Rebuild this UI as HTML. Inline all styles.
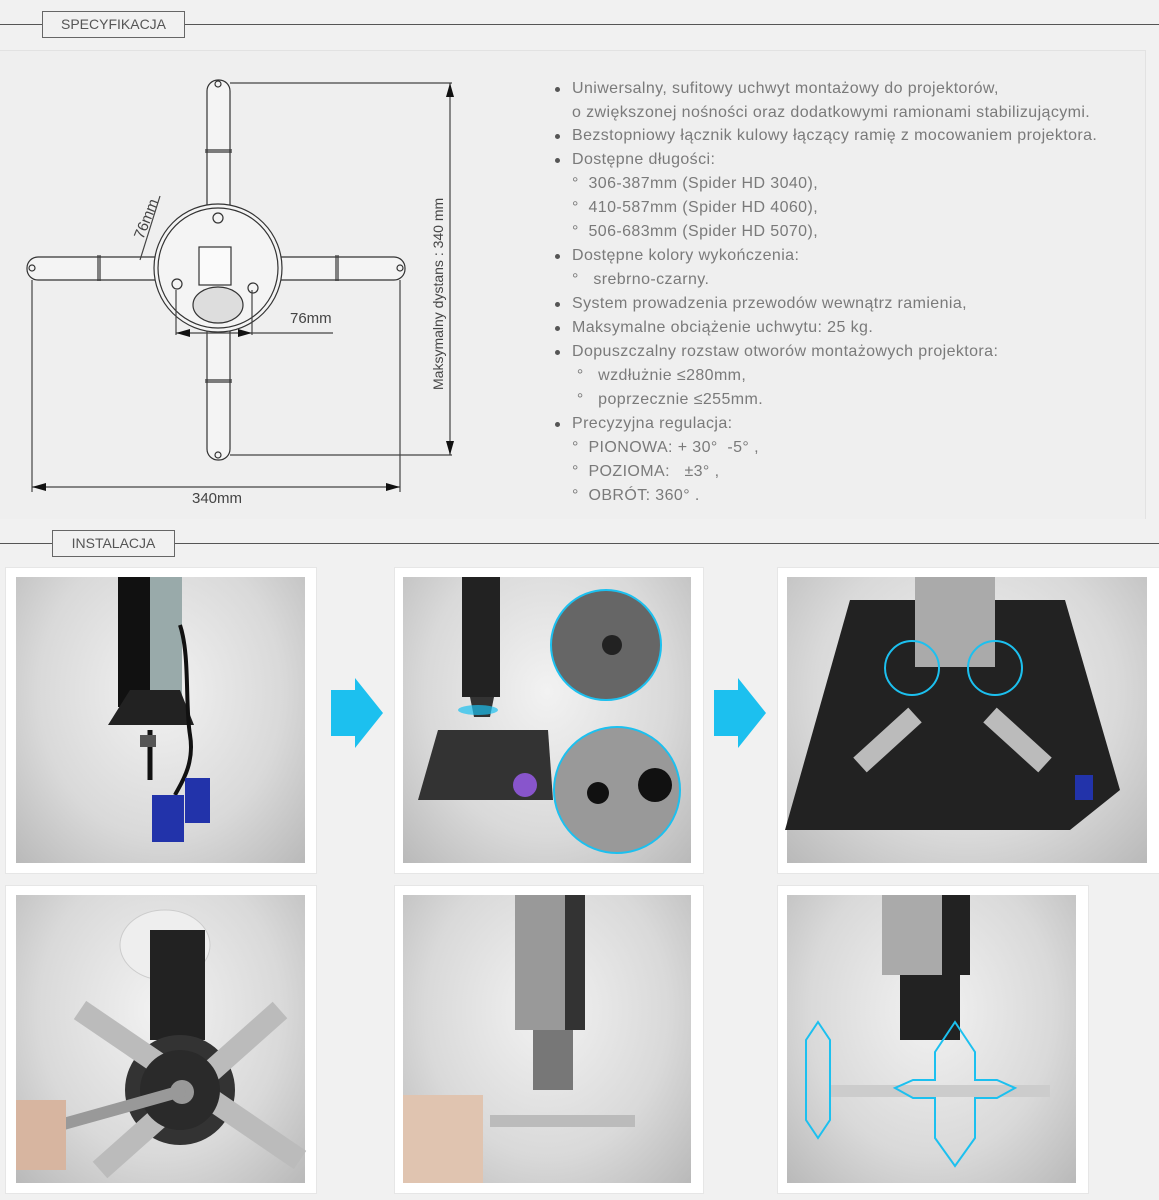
<!DOCTYPE html>
<html><head><meta charset="utf-8"><style>
body{margin:0;width:1159px;height:1200px;background:#f1f1f1;font-family:"Liberation Sans",sans-serif;position:relative;overflow:hidden}
.hl{position:absolute;left:0;right:0;height:1px;background:#555}
.tag{position:absolute;border:1px solid #666;background:#f1f1f1;color:#555;font-size:14px;text-align:center;box-sizing:border-box}
.panel{position:absolute;left:0;top:50px;width:1145px;height:468px;background:#efefef;border-top:1px solid #e2e2e2;border-right:1px solid #e2e2e2}
ul{position:absolute;left:553px;top:77px;margin:0;padding:0;list-style:none;color:#7a7a7a;font-size:16px;letter-spacing:0.4px}
ul li{height:24px;line-height:24px;white-space:nowrap;position:relative;padding-left:19px}
ul li.b:before{content:"";position:absolute;left:2px;top:10px;width:5px;height:5px;border-radius:50%;background:#555}
.fr{position:absolute;background:#fff;border:1px solid #e6e6e6}
.ph{position:absolute;background:radial-gradient(ellipse at 50% 40%,#f2f2f2 0%,#d9d9d9 60%,#b9b9b9 100%)}
</style></head><body>
<div class="hl" style="top:24px"></div>
<div class="tag" style="left:42px;top:11px;width:143px;height:27px;line-height:25px">SPECYFIKACJA</div>
<div class="panel"></div>
<svg style="position:absolute;left:0;top:0" width="520" height="520" stroke="#333" fill="#f4f4f4" stroke-width="1.2">
<rect x="207" y="80" width="23" height="380" rx="11"/>
<rect x="27" y="257" width="378" height="23" rx="11"/>
<circle cx="218" cy="268" r="64"/><circle cx="218" cy="268" r="60" fill="none"/>
<rect x="199" y="247" width="32" height="38" fill="#fafafa"/>
<ellipse cx="218" cy="305" rx="25" ry="18" fill="#ddd"/>
<circle cx="218" cy="218" r="5"/><circle cx="177" cy="284" r="5"/><circle cx="253" cy="288" r="5"/>
<circle cx="218" cy="84" r="3"/><circle cx="218" cy="455" r="3"/><circle cx="32" cy="268" r="3"/><circle cx="400" cy="268" r="3"/>
<path d="M205 150h27M205 152h27M205 380h27M205 382h27M98 255v26M100 255v26M336 255v26M338 255v26" />
<g fill="none" stroke="#444">
<path d="M230 83H452M230 455H452M450 83V455M32 280V492M400 280V492M32 487H400M176 290V335M252 290V335M176 333H333M160 196L140 260"/>
</g>
<g fill="#111" stroke="none">
<path d="M450 83l-4 14h8zM450 455l-4-14h8zM32 487l14-4v8zM400 487l-14-4v8zM176 333l14-4v8zM252 333l-14-4v8z"/>
</g>
<g fill="#444" stroke="none" font-family="Liberation Sans,sans-serif" font-size="15">
<text x="192" y="503">340mm</text>
<text x="290" y="323">76mm</text>
<text transform="translate(143,240) rotate(-68)">76mm</text>
<text transform="translate(443,390) rotate(-90)" font-size="14">Maksymalny dystans : 340 mm</text>
</g>
</svg>
<ul>
<li class="b">Uniwersalny, sufitowy uchwyt montażowy do projektorów,</li>
<li style="height:23px">o zwiększonej nośności oraz dodatkowymi ramionami stabilizującymi.</li>
<li class="b">Bezstopniowy łącznik kulowy łączący ramię z mocowaniem projektora.</li>
<li class="b">Dostępne długości:</li>
<li>° &nbsp;306-387mm (Spider HD 3040),</li>
<li>° &nbsp;410-587mm (Spider HD 4060),</li>
<li>° &nbsp;506-683mm (Spider HD 5070),</li>
<li class="b">Dostępne kolory wykończenia:</li>
<li>° &nbsp;&nbsp;srebrno-czarny.</li>
<li class="b">System prowadzenia przewodów wewnątrz ramienia,</li>
<li class="b">Maksymalne obciążenie uchwytu: 25 kg.</li>
<li class="b">Dopuszczalny rozstaw otworów montażowych projektora:</li>
<li>&nbsp;° &nbsp;&nbsp;wzdłużnie ≤280mm,</li>
<li>&nbsp;° &nbsp;&nbsp;poprzecznie ≤255mm.</li>
<li class="b">Precyzyjna regulacja:</li>
<li>° &nbsp;PIONOWA: + 30° &nbsp;-5° ,</li>
<li>° &nbsp;POZIOMA: &nbsp; ±3° ,</li>
<li>° &nbsp;OBRÓT: 360° .</li>
</ul>
<div class="hl" style="top:543px"></div>
<div class="tag" style="left:52px;top:530px;width:123px;height:27px;line-height:25px">INSTALACJA</div>

<div class="fr" style="left:5px;top:567px;width:310px;height:305px"></div><div class="ph" style="left:16px;top:577px;width:289px;height:286px"></div>
<div class="fr" style="left:394px;top:567px;width:308px;height:305px"></div><div class="ph" style="left:403px;top:577px;width:288px;height:286px"></div>
<div class="fr" style="left:777px;top:567px;width:382px;height:305px"></div><div class="ph" style="left:787px;top:577px;width:360px;height:286px"></div>
<div class="fr" style="left:5px;top:885px;width:310px;height:307px"></div><div class="ph" style="left:16px;top:895px;width:289px;height:288px"></div>
<div class="fr" style="left:394px;top:885px;width:308px;height:307px"></div><div class="ph" style="left:403px;top:895px;width:288px;height:288px"></div>
<div class="fr" style="left:777px;top:885px;width:310px;height:307px"></div><div class="ph" style="left:787px;top:895px;width:289px;height:288px"></div>

<svg style="position:absolute;left:0;top:0" width="1159" height="1200">
<!-- photo 1 -->
<rect x="118" y="577" width="32" height="130" fill="#111"/><rect x="150" y="577" width="32" height="120" fill="#9aa"/>
<path d="M108 725L130 690h50l14 35z" fill="#222"/>
<path d="M180 625c10 30 5 80 10 110s-10 50-15 60" stroke="#111" stroke-width="4" fill="none"/>
<path d="M150 730v50" stroke="#111" stroke-width="5"/>
<rect x="140" y="735" width="16" height="12" fill="#555"/>
<rect x="152" y="795" width="32" height="47" fill="#2233aa"/><rect x="185" y="778" width="25" height="45" fill="#2233aa"/>
<!-- arrows -->
<path d="M331 690h24v-12l28 35-28 35v-12h-24z" fill="#1cc0ef"/>
<path d="M714 690h24v-12l28 35-28 35v-12h-24z" fill="#1cc0ef"/>
<!-- photo 2 -->
<rect x="462" y="577" width="38" height="120" fill="#222"/>
<path d="M470 697h24l-4 20h-16z" fill="#333"/>
<ellipse cx="478" cy="710" rx="20" ry="5" fill="#1cc0ef" opacity="0.7"/>
<path d="M418 800l20-70h110l5 70z" fill="#333"/>
<circle cx="525" cy="785" r="12" fill="#8855cc"/>
<circle cx="606" cy="645" r="55" fill="#666" stroke="#1cc0ef" stroke-width="2"/>
<circle cx="617" cy="790" r="63" fill="#999" stroke="#1cc0ef" stroke-width="2"/>
<circle cx="598" cy="793" r="11" fill="#111"/><circle cx="655" cy="785" r="17" fill="#111"/>
<circle cx="612" cy="645" r="10" fill="#222"/>
<!-- photo 3 -->
<path d="M850 600h215l55 190-50 40h-285z" fill="#222"/>
<rect x="915" y="577" width="80" height="90" fill="#aaa"/>
<path d="M860 765l55-50M1045 765l-55-50" stroke="#bbb" stroke-width="20"/>
<rect x="1075" y="775" width="18" height="25" fill="#2233aa"/>
<circle cx="912" cy="668" r="27" fill="none" stroke="#1cc0ef" stroke-width="2"/>
<circle cx="995" cy="668" r="27" fill="none" stroke="#1cc0ef" stroke-width="2"/>
<!-- photo 4 -->
<ellipse cx="165" cy="945" rx="45" ry="35" fill="#eee" stroke="#ccc"/>
<rect x="150" y="930" width="55" height="110" fill="#222"/>
<circle cx="180" cy="1090" r="55" fill="#333"/>
<path d="M80 1010l220 150M280 1010L100 1170" stroke="#bbb" stroke-width="22"/>
<circle cx="180" cy="1090" r="40" fill="#2a2a2a"/>
<circle cx="182" cy="1092" r="12" fill="#999"/>
<path d="M60 1125l125-35" stroke="#999" stroke-width="12"/>
<rect x="16" y="1100" width="50" height="70" fill="#d7b5a0"/>
<!-- photo 5 -->
<rect x="515" y="895" width="70" height="135" fill="#999"/><rect x="565" y="895" width="20" height="135" fill="#333"/>
<rect x="533" y="1030" width="40" height="60" fill="#777"/>
<path d="M490 1115h145v12H490z" fill="#bbb"/>
<rect x="403" y="1095" width="80" height="88" fill="#e0c4b0"/>
<!-- photo 6 -->
<rect x="882" y="895" width="88" height="80" fill="#aaa"/><rect x="942" y="895" width="28" height="80" fill="#222"/>
<rect x="900" y="975" width="60" height="65" fill="#222"/>
<path d="M830 1085h220v12H830z" fill="#ccc"/>
<path d="M818 1022l12 18v80l-12 18-12-18v-80z" fill="none" stroke="#1cc0ef" stroke-width="2"/>
<path d="M955 1022l20 30v28h22l18 8-18 10h-22v40l-20 28-20-28v-40h-22l-18-10 18-8h22v-28z" fill="none" stroke="#1cc0ef" stroke-width="2"/>
</svg>
</body></html>
